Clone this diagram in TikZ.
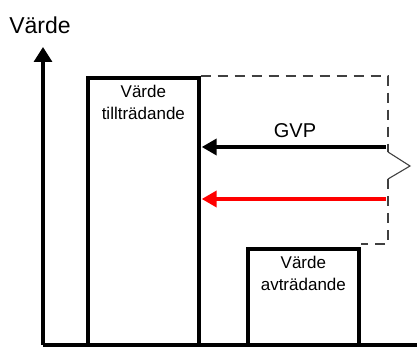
\documentclass[tikz,border=0pt]{standalone}
\usepackage{fontspec}
\setmainfont{Liberation Sans}
\usetikzlibrary{arrows.meta,positioning}
\begin{document}
\begin{tikzpicture}[x=1pt,y=-1pt,
  axisline/.style={line width=3.2pt},
  valuebox/.style={draw,line width=3.7pt,rectangle,inner sep=0pt,anchor=north west},
  boxtext/.style={align=center,font=\fontsize{17}{22}\selectfont,inner sep=0pt,anchor=north},
  ghost/.style={draw=black!75,line width=1.1pt,dash pattern=on 10pt off 7pt},
  flow/.style={line width=4.5pt,-{Triangle[length=15pt,width=16pt]}}]
\useasboundingbox (0,0) rectangle (417,347);
% axes
\coordinate (origin) at (43,345);
\coordinate (ytop) at (43,47);
\coordinate (xend) at (417,345);
\draw[axisline,-{Triangle[length=15pt,width=18pt]}] (origin) -- (ytop);
\draw[axisline] (origin) -- (xend);
\node[font=\fontsize{23}{26}\selectfont,inner sep=0pt] (ylabel) at (40,25) {Värde};
% value boxes
\node[valuebox,minimum width=111pt,minimum height=269pt] (big) at (86,76) {};
\node[boxtext] (bigtext) at ([yshift=-9pt]big.north) {Värde\\tillträdande};
\node[valuebox,minimum width=111pt,minimum height=98pt] (small) at (246,247) {};
\node[boxtext] (smalltext) at ([yshift=-9pt]small.north) {Värde\\avträdande};
% dashed outline of the former value, with a break mark
\coordinate (dtr) at (388,76);
\coordinate (dbr) at (388,244);
\coordinate (brkA) at (388,152);
\coordinate (brkT) at (410,166);
\coordinate (brkB) at (388,179);
\draw[ghost] (big.north east) -- (dtr) -- (brkA);
\draw[ghost] (brkB) -- (dbr) -- (small.north east |- dbr);
\draw[draw=black!75,line width=1.1pt] (brkA) -- (brkT) -- (brkB);
% value differences
\coordinate (gvpstart) at (386,147);
\coordinate (redstart) at (386,199);
\draw[flow] (gvpstart) -- ([xshift=1pt]big.east |- gvpstart);
\draw[flow,red] (redstart) -- ([xshift=1pt]big.east |- redstart);
\node[font=\fontsize{20}{24}\selectfont,inner sep=0pt] (gvp) at (295,131) {GVP};
\end{tikzpicture}
\end{document}
